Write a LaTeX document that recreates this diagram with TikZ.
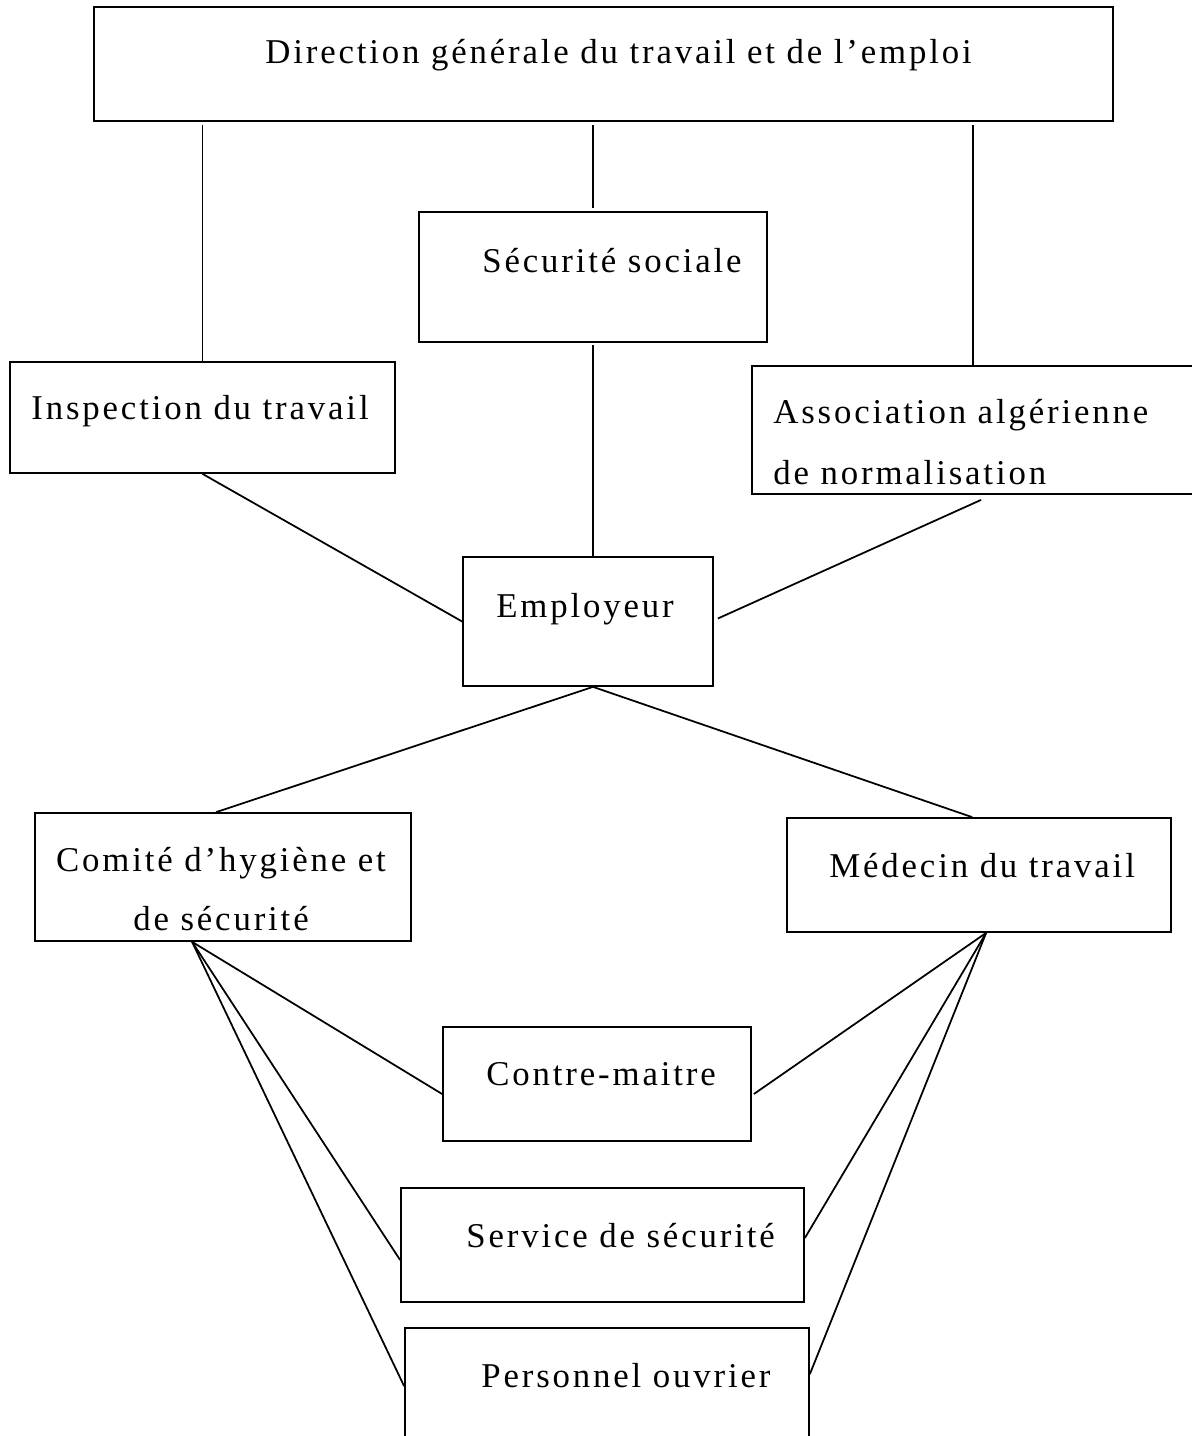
\documentclass[tikz,border=0pt]{standalone}
\usepackage{fontspec}
\setmainfont{Liberation Serif}[LetterSpace=8.2]
\usetikzlibrary{fit,calc}
\tikzset{
  box/.style={draw, rectangle, inner sep=0pt, line width=1pt},
  txt/.style={inner sep=0pt, anchor=base west, font=\fontsize{19.8}{34}\selectfont},
  link/.style={line width=1pt}
}
\begin{document}
\begin{tikzpicture}[x=0.02cm, y=-0.02cm]
\useasboundingbox (0,0) rectangle (1192,1436);
\clip (0,0) rectangle (1192,1436);
% boxes
\node[box, fit={(94,7) (1113,121)}] (dir) {};
\node[box, fit={(419,212) (767,342)}] (secu) {};
\node[box, fit={(10,362) (395,473)}] (insp) {};
\node[box, fit={(752,366) (1230,494)}] (assoc) {};
\node[box, fit={(463,557) (713,686)}] (emp) {};
\node[box, fit={(35,813) (411,941)}] (comite) {};
\node[box, fit={(787,818) (1171,932)}] (med) {};
\node[box, fit={(443,1027) (751,1141)}] (contre) {};
\node[box, fit={(401,1188) (804,1302)}] (serv) {};
\node[box, fit={(405,1328) (809,1480)}] (pers) {};
% texts
\node[txt] (dir-t) at (265,64) {Direction générale du travail et de l’emploi};
\node[txt] (secu-t) at (482,272) {Sécurité sociale};
\node[txt] (insp-t) at (31,419) {Inspection du travail};
\node[txt] (assoc-t1) at (773,423) {Association algérienne};
\node[txt] (assoc-t2) at (773,484) {de normalisation};
\node[txt] (emp-t) at (496,617) {Employeur};
\node[txt, anchor=base] (comite-t1) at (221,871) {Comité d’hygiène et};
\node[txt, anchor=base] (comite-t2) at (221,930) {de sécurité};
\node[txt] (med-t) at (829,877) {Médecin du travail};
\node[txt] (contre-t) at (486,1085) {Contre-maitre};
\node[txt] (serv-t) at (466,1247) {Service de sécurité};
\node[txt] (pers-t) at (481,1387) {Personnel ouvrier};
% anchor points
\coordinate (empb) at (emp.south -| secu.south);
\coordinate (comb) at ($(comite.south west)+(158,0)$);
\coordinate (medb) at ($(med.south west)+(200,0)$);
% connectors
\draw[link, shorten <=2pt] (dir.south -| insp.north) -- (insp.north);
\draw[link, shorten <=2pt, shorten >=2pt] (dir.south -| secu.north) -- (secu.north);
\draw[link, shorten <=2pt] (dir.south -| {$(assoc.north west)+(222,0)$}) -- ($(assoc.north west)+(222,0)$);
\draw[link, shorten <=1pt] (secu.south) -- (secu.south |- emp.north);
\draw[link] (insp.south) -- (emp.west);
\draw[link] ($(assoc.south west)+(230,5)$) -- ($(emp.east)+(4,-3)$);
\draw[link] (empb) -- ($(comite.north west)+(182,0)$);
\draw[link] (empb) -- ($(med.north west)+(186,0)$);
\draw[link] (comb) -- ($(contre.west)+(0,10)$);
\draw[link] (comb) -- ($(serv.west)+(0,15)$);
\draw[link] (comb) -- ($(pers.north west)+(0,59)$);
\draw[link] (medb) -- ($(contre.east)+(2,10)$);
\draw[link] (medb) -- ($(serv.east)+(0,-7)$);
\draw[link] (medb) -- ($(pers.north east)+(0,47)$);
\end{tikzpicture}
\end{document}
